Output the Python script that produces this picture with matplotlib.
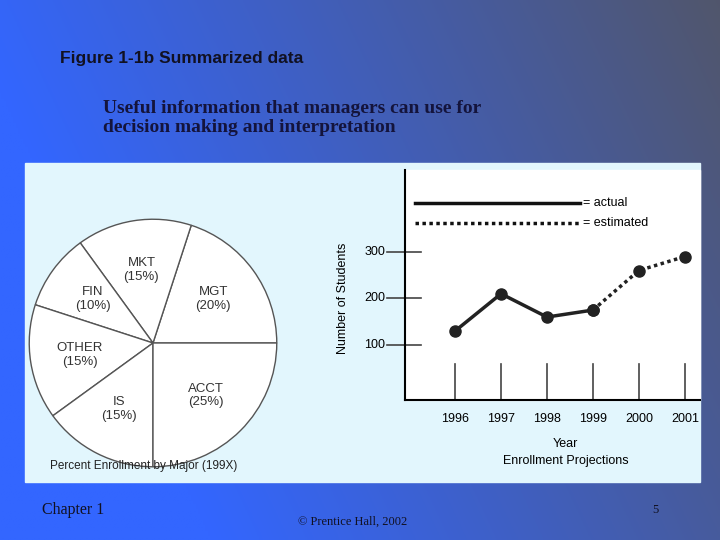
import numpy as np
import matplotlib.pyplot as plt
from matplotlib.patches import Rectangle

majors = ["MGT\n(20%)", "MKT\n(15%)", "FIN\n(10%)", "OTHER\n(15%)", "IS\n(15%)", "ACCT\n(25%)"]
shares = [20, 15, 10, 15, 15, 25]
years = [1996, 1997, 1998, 1999, 2000, 2001]
students = [130, 210, 160, 175, 260, 290]
y_ticks = [100, 200, 300]

fig = plt.figure(figsize=(7.2, 5.4), dpi=100)

# slide background gradient
bg = fig.add_axes([0, 0, 1, 1])
gx, gy = np.meshgrid(np.linspace(0, 1, 300), np.linspace(0, 1, 200))
t = np.clip(0.85 * gx + 0.3 * gy - 0.25, 0, 1)
c0 = np.array([0.2, 0.4, 1.0])
c1 = np.array([0.33, 0.33, 0.36])
img = c0[None, None, :] * (1 - t[..., None]) + c1[None, None, :] * t[..., None]
bg.imshow(img, extent=[0, 1, 0, 1], aspect="auto", origin="lower")
bg.set_xlim(0, 1)
bg.set_ylim(0, 1)
bg.axis("off")

def fx(px):
    return px / 720

def fy(py):
    return 1 - py / 540

bg.add_patch(Rectangle((fx(25), fy(482)), fx(675), 319 / 540, color="#e2f6fd"))
bg.add_patch(Rectangle((fx(405), fy(400)), fx(295), 230 / 540, color="white"))

fig.text(fx(60), fy(58), "Figure 1-1b Summarized data", fontsize=12.5, va="center",
         family="Liberation Sans", weight="bold", color="#111122")
fig.text(fx(103), fy(118), "Useful information that managers can use for\ndecision making and interpretation",
         fontsize=14, va="center", family="Liberation Serif", weight="bold", color="#14143c", linespacing=1.2)
fig.text(fx(42), fy(510), "Chapter 1", fontsize=11.5, va="center", family="Liberation Serif", color="#111122")
fig.text(fx(298), fy(522), "© Prentice Hall, 2002", fontsize=9, va="center", family="Liberation Serif", color="#111122")
fig.text(fx(652), fy(510), "5", fontsize=9, va="center", family="Liberation Serif", color="#111122")

# pie chart
pax = fig.add_axes([fx(28), fy(468), fx(250), 250 / 540])
pax.pie(shares, labels=majors, startangle=0, counterclock=True,
        colors=["white"] * 6, labeldistance=0.6,
        wedgeprops=dict(edgecolor="#555555", linewidth=1),
        textprops=dict(fontsize=9.5, ha="center", va="center", color="#333333", family="Liberation Sans"))
pax.set_xlim(-1.01, 1.01)
pax.set_ylim(-1.01, 1.01)
pax.set_aspect("equal")
fig.text(fx(50), fy(466), "Percent Enrollment by Major (199X)", fontsize=8.5, va="center",
         family="Liberation Sans", color="#222222")

# line chart
ax = fig.add_axes([fx(405), fy(400), fx(295), 230 / 540])
ax.set_xlim(1994.91, 2001.33)
ax.set_ylim(-18.3, 476)
ax.patch.set_alpha(0)
ax.plot(years[:4], students[:4], color="#222222", lw=2.5, marker="o", ms=8)
ax.plot(years[3:], students[3:], color="#222222", lw=2.5, ls=(0, (1, 1)), marker="o", ms=8)
for s in ["top", "right"]:
    ax.spines[s].set_visible(False)
ax.spines["left"].set_linewidth(1.5)
ax.spines["bottom"].set_linewidth(1.5)
ax.set_xticks([])
ax.set_yticks([])
for v in y_ticks:
    ax.plot([1994.52, 1995.25], [v, v], color="#444444", lw=1.2, clip_on=False)
    ax.text(1994.48, v, str(v), ha="right", va="center", fontsize=9, family="Liberation Sans", clip_on=False)
for yr in years:
    ax.plot([yr, yr], [60, -18.3], color="#444444", lw=1.2, clip_on=False)
    ax.text(yr, -60, str(yr), ha="center", va="center", fontsize=9, family="Liberation Sans", clip_on=False)
ax.text(1998.4, -112, "Year", ha="center", va="center", fontsize=9, family="Liberation Sans", clip_on=False)
ax.text(1998.4, -150, "Enrollment Projections", ha="center", va="center", fontsize=9,
        family="Liberation Sans", clip_on=False)
ax.text(1993.57, 200, "Number of Students", rotation=90, ha="center", va="center", fontsize=9,
        family="Liberation Sans", clip_on=False)
ax.plot([1995.13, 1998.72], [405, 405], color="#111111", lw=2.5)
ax.plot([1995.13, 1998.72], [362, 362], color="#111111", lw=2.5, ls=(0, (1, 1)))
ax.text(1998.78, 405, "= actual", va="center", fontsize=9, family="Liberation Sans")
ax.text(1998.78, 362, "= estimated", va="center", fontsize=9, family="Liberation Sans")

fig.savefig("out.png", dpi=100)
